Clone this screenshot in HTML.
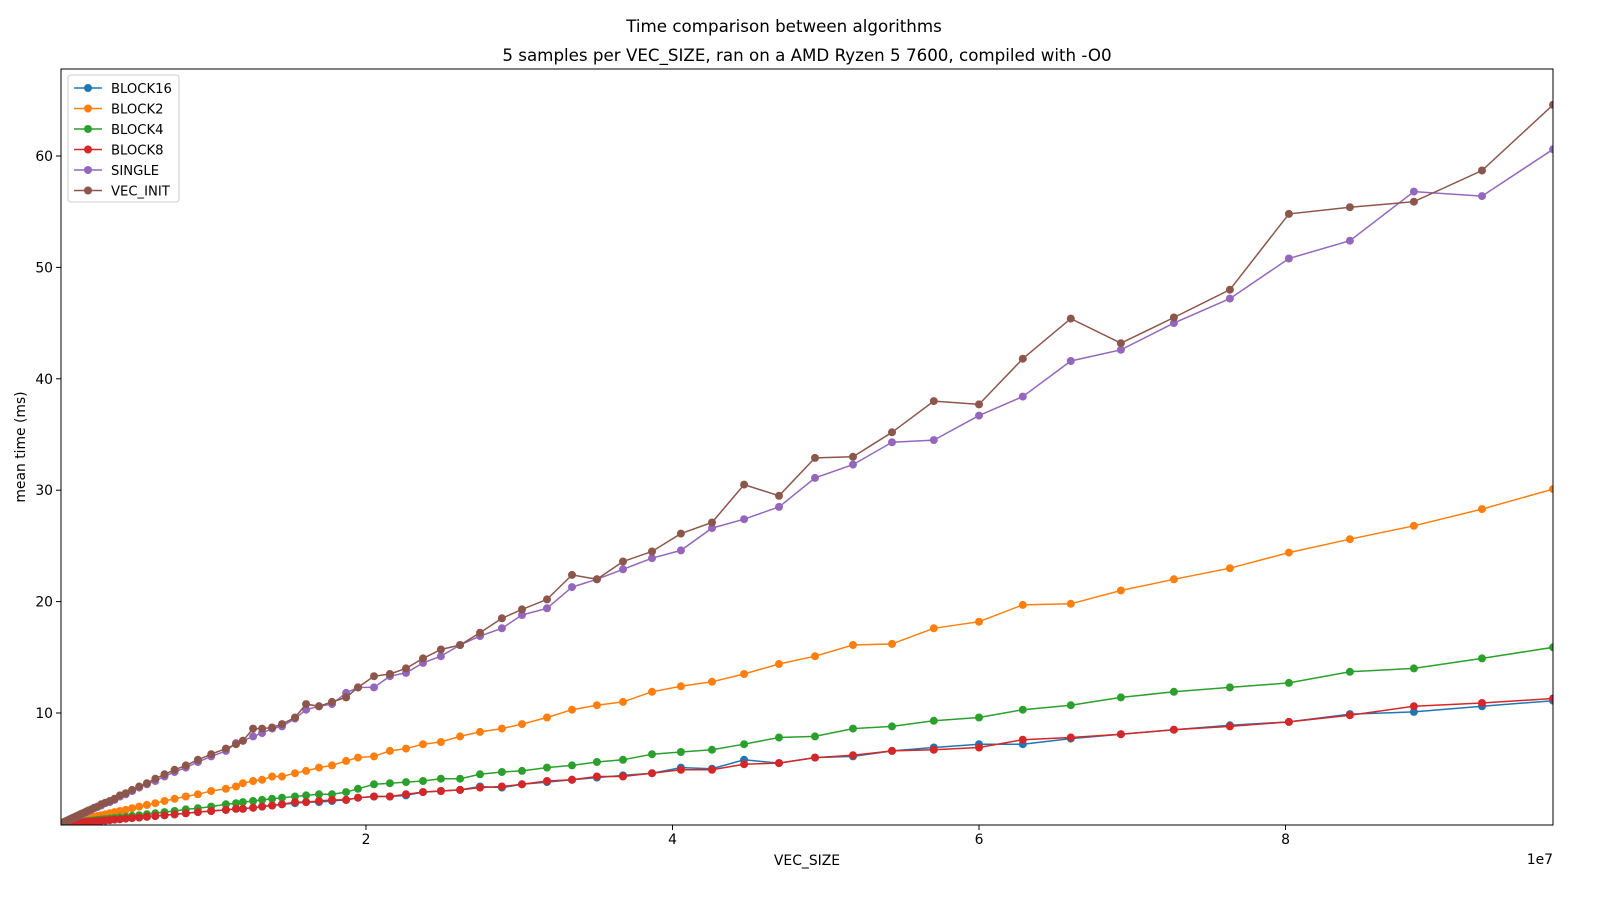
<!DOCTYPE html>
<html><head><meta charset="utf-8"><style>
html,body{margin:0;padding:0;background:#fff;}
svg{display:block;font-family:"DejaVu Sans","Liberation Sans",sans-serif;}
</style></head><body>
<svg id="chart" width="1600" height="900" viewBox="0 0 1600 900" xmlns="http://www.w3.org/2000/svg">
<text x="784" y="32" font-size="16.7" text-anchor="middle">Time comparison between algorithms</text>
<text x="807" y="61" font-size="16.7" text-anchor="middle">5 samples per VEC_SIZE, ran on a AMD Ryzen 5 7600, compiled with -O0</text>
<g id="plot"></g>
<text x="807" y="865" font-size="13.9" text-anchor="middle">VEC_SIZE</text>
<text x="1553" y="864" font-size="13.9" text-anchor="end">1e7</text>
<text x="0" y="0" font-size="13.9" text-anchor="middle" transform="translate(25,447) rotate(-90)">mean time (ms)</text>
</svg>
<script>
const xTop=[9.746,9.282,8.838,8.42,8.022,7.637,7.272,6.926,6.599,6.286,6.0,5.705,5.432,5.178,4.93,4.695,4.467,4.258,4.055,3.866,3.677,3.507,3.344,3.181,3.018,2.887,2.744,2.614,2.489,2.372,2.261,2.156,2.052,1.948,1.87,1.778,1.693,1.609,1.537,1.452,1.387,1.322,1.263,1.197,1.152,1.086];
const xLow=[0.99,0.903,0.824,0.751,0.685,0.625,0.57,0.52,0.474,0.432,0.394,0.359,0.328,0.299,0.272,0.248,0.227,0.207,0.188,0.172,0.157,0.143,0.13,0.119,0.108,0.099,0.09,0.082,0.075,0.068,0.062,0.05,0.04,0.03,0.02,0.01];
const block16=[11.1,10.6,10.1,9.9,9.2,8.9,8.5,8.1,7.7,7.2,7.2,6.9,6.6,6.1,6.0,5.5,5.8,5.0,5.1,4.6,4.4,4.2,4.0,3.8,3.6,3.3,3.4,3.1,3.0,2.9,2.6,2.5,2.5,2.4,2.2,2.1,2.0,2.0,1.9,1.8,1.7,1.6,1.5,1.4,1.4,1.3,
1.2,1.1,1.0,0.9,0.82,0.75,0.68,0.62,0.57,0.52,0.47,0.43,0.39,0.36,0.33,0.3,0.27,0.25,0.23,0.21,0.19,0.17,0.16,0.14,0.13,0.12,0.11,0.1,0.09,0.08,0.07,0.06,0.05,0.04,0.02,0.01];
const block2=[30.1,28.3,26.8,25.6,24.4,23.0,22.0,21.0,19.8,19.7,18.2,17.6,16.2,16.1,15.1,14.4,13.5,12.8,12.4,11.9,11.0,10.7,10.3,9.6,9.0,8.6,8.3,7.9,7.4,7.2,6.8,6.6,6.1,6.0,5.7,5.3,5.1,4.8,4.6,4.3,4.3,4.0,3.9,3.7,3.4,3.2,
3.0,2.7,2.5,2.3,2.1,1.9,1.75,1.6,1.45,1.3,1.2,1.1,1.0,0.9,0.83,0.75,0.69,0.63,0.57,0.52,0.48,0.43,0.4,0.36,0.33,0.3,0.27,0.25,0.23,0.21,0.19,0.15,0.12,0.09,0.06,0.03];
const block4=[15.9,14.9,14.0,13.7,12.7,12.3,11.9,11.4,10.7,10.3,9.6,9.3,8.8,8.6,7.9,7.8,7.2,6.7,6.5,6.3,5.8,5.6,5.3,5.1,4.8,4.7,4.5,4.1,4.1,3.9,3.8,3.7,3.6,3.2,2.9,2.7,2.7,2.6,2.5,2.4,2.3,2.2,2.1,2.0,1.9,1.8,
1.6,1.45,1.35,1.2,1.1,1.0,0.92,0.83,0.76,0.69,0.63,0.57,0.52,0.48,0.44,0.4,0.36,0.33,0.3,0.28,0.25,0.23,0.21,0.19,0.17,0.16,0.14,0.13,0.12,0.11,0.1,0.08,0.06,0.05,0.03,0.02];
const block8=[11.3,10.9,10.6,9.8,9.2,8.8,8.5,8.1,7.8,7.6,6.9,6.7,6.6,6.2,6.0,5.5,5.4,4.9,4.9,4.6,4.3,4.3,4.0,3.9,3.6,3.4,3.3,3.1,3.0,2.9,2.7,2.5,2.5,2.4,2.2,2.2,2.1,2.0,2.0,1.8,1.7,1.6,1.5,1.4,1.4,1.3,
1.2,1.1,1.0,0.9,0.82,0.75,0.68,0.62,0.57,0.52,0.47,0.43,0.39,0.36,0.33,0.3,0.27,0.25,0.23,0.21,0.19,0.17,0.16,0.14,0.13,0.12,0.11,0.1,0.09,0.08,0.07,0.06,0.05,0.04,0.02,0.01];
const single=[60.6,56.4,56.8,52.4,50.8,47.2,45.0,42.6,41.6,38.4,36.7,34.5,34.3,32.3,31.1,28.5,27.4,26.6,24.6,23.9,22.9,22.0,21.3,19.4,18.8,17.6,16.9,16.1,15.1,14.5,13.6,13.3,12.3,12.3,11.8,10.8,10.6,10.3,9.5,8.8,8.6,8.2,7.9,7.5,7.3,6.6,
6.1,5.6,5.1,4.7,4.3,3.9,3.6,3.3,3.0,2.7,2.5,2.2,2.0,1.9,1.7,1.55,1.45,1.3,1.2,1.08,0.99,0.91,0.83,0.76,0.69,0.63,0.58,0.53,0.48,0.44,0.4,0.33,0.27,0.2,0.14,0.07];
const vecInit=[64.6,58.7,55.9,55.4,54.8,48.0,45.5,43.2,45.4,41.8,37.7,38.0,35.2,33.0,32.9,29.5,30.5,27.1,26.1,24.5,23.6,22.0,22.4,20.2,19.3,18.5,17.2,16.1,15.7,14.9,14.0,13.5,13.3,12.3,11.4,11.0,10.6,10.8,9.6,9.0,8.7,8.6,8.6,7.5,7.2,6.8,
6.3,5.8,5.3,4.9,4.5,4.1,3.7,3.4,3.1,2.8,2.6,2.3,2.1,1.95,1.8,1.6,1.5,1.35,1.25,1.13,1.03,0.95,0.86,0.79,0.72,0.66,0.6,0.55,0.5,0.46,0.42,0.34,0.28,0.21,0.15,0.08];
const xTicks=[2,4,6,8];
const yTicks=[10,20,30,40,50,60];
const seriesNames=["BLOCK16","BLOCK2","BLOCK4","BLOCK8","SINGLE","VEC_INIT"];
const xs=xTop.concat(xLow);
const L=61,R=1553,T=69,B=825;
const X=v=>59.5+v*153.25;
const Y=v=>824.4-v*11.14;
const NS="http://www.w3.org/2000/svg";
const plot=document.getElementById('plot');
function mk(tag,attrs,parent){const e=document.createElementNS(NS,tag);for(const k in attrs)e.setAttribute(k,attrs[k]);(parent||plot).appendChild(e);return e;}
const colors=["#1f77b4","#ff7f0e","#2ca02c","#d62728","#9467bd","#8c564b"];
const data=[block16,block2,block4,block8,single,vecInit];
const defs=mk('defs',{});
const cp=mk('clipPath',{id:'clip'},defs);
mk('rect',{x:L,y:T,width:R-L,height:B-T},cp);
data.forEach((arr,i)=>{
  const g=mk('g',{'clip-path':'url(#clip)'});
  
  
  const pts=arr.map((v,j)=>X(xs[j]).toFixed(1)+','+Y(v).toFixed(1)).join(' ');
  const pl=mk('polyline',{points:pts,fill:'none',stroke:colors[i],'stroke-width':1.5},g);
  
  
  arr.forEach((v,j)=>{
    const c=mk('circle',{cx:X(xs[j]).toFixed(1),cy:Y(v).toFixed(1),r:4,fill:colors[i]},g);
    
    
  });
});
const frame=mk('rect',{x:L,y:T,width:R-L,height:B-T,fill:'none',stroke:'#000','stroke-width':1});


xTicks.forEach(t=>{
  const x=X(t);
  const tk=mk('line',{x1:x,y1:B,x2:x,y2:B+5,stroke:'#000'});
  
  
  const tx=mk('text',{x:x,y:B+19,'font-size':13.9,'text-anchor':'middle'});
  tx.textContent=t;
  
  
});
yTicks.forEach(t=>{
  const y=Y(t);
  const tk=mk('line',{x1:L-5,y1:y,x2:L,y2:y,stroke:'#000'});
  
  
  const tx=mk('text',{x:L-8,y:y+5,'font-size':13.9,'text-anchor':'end'});
  tx.textContent=t;
  
  
});
const lg=mk('g',{});


mk('rect',{x:68,y:75,width:111,height:127,rx:3,fill:'#fff','fill-opacity':0.8,stroke:'#ccc'},lg);
seriesNames.forEach((n,i)=>{
  const y=88+i*20.5;
  const e=mk('g',{},lg);
  
  
  mk('line',{x1:74,y1:y,x2:102,y2:y,stroke:colors[i],'stroke-width':1.5},e);
  mk('circle',{cx:88,cy:y,r:4,fill:colors[i]},e);
  const t=mk('text',{x:111,y:y+5,'font-size':13.2},e);
  t.textContent=n;
});
</script>
</body></html>
